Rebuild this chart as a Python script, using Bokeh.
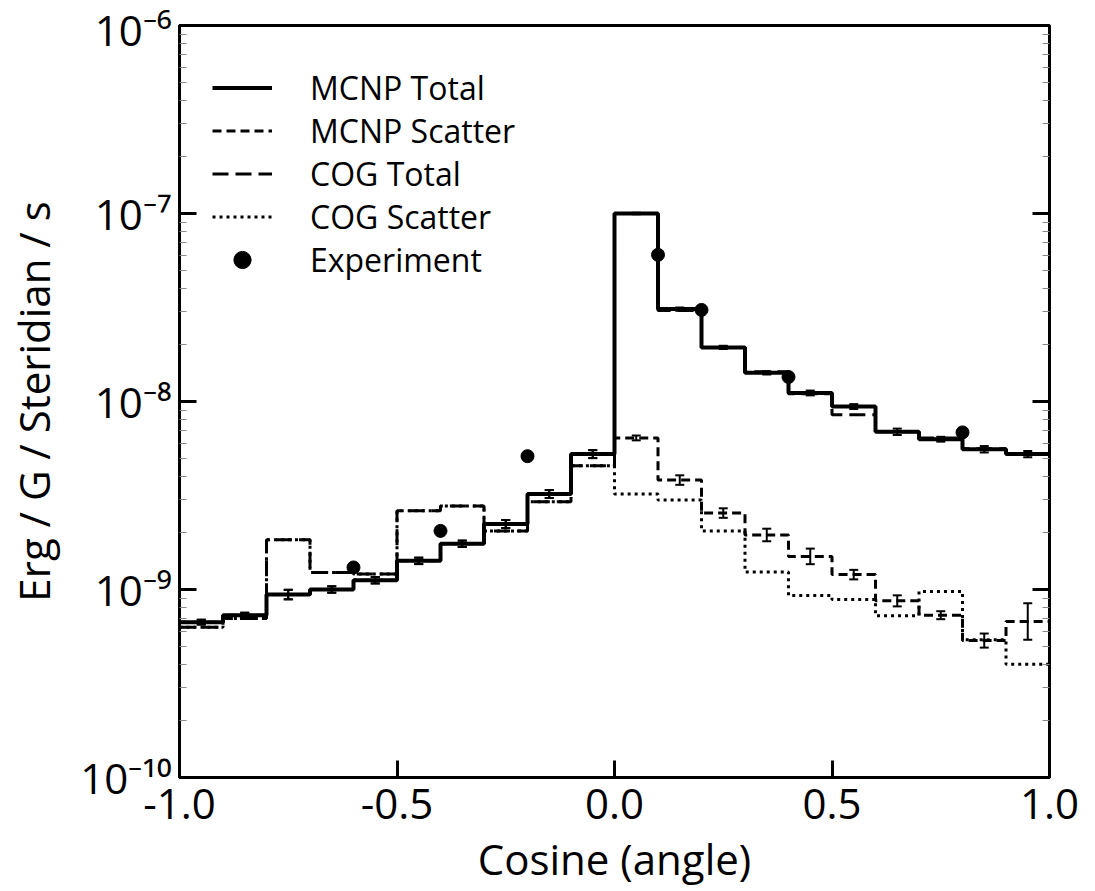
import numpy as np
from bokeh.plotting import figure
from bokeh.models import (Range1d, LogAxis, Legend, LegendItem, Whisker,
                          TeeHead, ColumnDataSource, FixedTicker, PrintfTickFormatter,
                          CustomJSTickFormatter)
from bokeh.embed import file_html
from bokeh.resources import INLINE

FONT = "Open Sans"

# ---------------- data ----------------
bin_edges = [-1.0, -0.9, -0.8, -0.7, -0.6, -0.5, -0.4, -0.3, -0.2, -0.1, 0.0,
             0.1, 0.2, 0.3, 0.4, 0.5, 0.6, 0.7, 0.8, 0.9, 1.0]
bin_centers = [-0.95, -0.85, -0.75, -0.65, -0.55, -0.45, -0.35, -0.25, -0.15, -0.05,
               0.05, 0.15, 0.25, 0.35, 0.45, 0.55, 0.65, 0.75, 0.85, 0.95]

mcnp_total = [6.7e-10, 7.3e-10, 9.4e-10, 1.0e-9, 1.12e-9, 1.42e-9, 1.75e-9, 2.23e-9, 3.22e-9, 5.25e-9,
              1.0e-7, 3.1e-8, 1.94e-8, 1.42e-8, 1.11e-8, 9.4e-9, 6.9e-9, 6.3e-9, 5.57e-9, 5.25e-9]
mcnp_total_err = [0.03, 0.03, 0.06, 0.04, 0.04, 0.04, 0.04, 0.05, 0.05, 0.05,
                  0.01, 0.02, 0.02, 0.02, 0.03, 0.03, 0.04, 0.03, 0.04, 0.04]

mcnp_scatter = [6.7e-10, 7.3e-10, 9.4e-10, 1.0e-9, 1.12e-9, 1.42e-9, 1.75e-9, 2.23e-9, 3.22e-9, 5.25e-9,
                6.4e-9, 3.82e-9, 2.55e-9, 1.95e-9, 1.5e-9, 1.2e-9, 8.7e-10, 7.3e-10, 5.35e-10, 6.75e-10]
mcnp_scatter_err = [0.03, 0.03, 0.06, 0.04, 0.04, 0.04, 0.04, 0.05, 0.05, 0.05,
                    0.03, 0.06, 0.06, 0.08, 0.10, 0.06, 0.07, 0.05, 0.09, 0.25]

cog_total = [6.3e-10, 7.0e-10, 1.84e-9, 1.23e-9, 1.21e-9, 2.62e-9, 2.78e-9, 2.05e-9, 2.93e-9, 4.55e-9,
             1.0e-7, 3.05e-8, 1.94e-8, 1.44e-8, 1.1e-8, 8.5e-9, 6.9e-9, 6.4e-9, 5.6e-9, 5.25e-9]
cog_scatter = [6.3e-10, 7.0e-10, 1.84e-9, 1.23e-9, 1.21e-9, 2.62e-9, 2.78e-9, 2.05e-9, 2.93e-9, 4.55e-9,
               3.22e-9, 2.99e-9, 2.05e-9, 1.24e-9, 9.3e-10, 8.85e-10, 7.26e-10, 9.75e-10, 5.4e-10, 4.0e-10]

exp_x = [-0.6, -0.4, -0.2, 0.1, 0.2, 0.4, 0.8]
exp_y = [1.31e-9, 2.05e-9, 5.12e-9, 6.03e-8, 3.07e-8, 1.35e-8, 6.85e-9]

x_ticks = [-1.0, -0.5, 0.0, 0.5, 1.0]
y_ticks = [1e-10, 1e-9, 1e-8, 1e-7, 1e-6]
y_tick_labels = ["10\u207b\u00b9\u2070", "10\u207b\u2079", "10\u207b\u2078",
                 "10\u207b\u2077", "10\u207b\u2076"]
y_minor_ticks = [k * 10.0 ** d for d in range(-10, -6) for k in range(2, 10)]

x_title = "Cosine (angle)"
y_title = "Erg / G / Steridian / s"

# ---------------- figure ----------------
p = figure(frame_width=870, frame_height=752,
           x_range=Range1d(-1.0, 1.0), y_range=Range1d(1e-10, 1e-6),
           y_axis_type="log", output_backend="svg", toolbar_location=None,
           min_border_left=179, min_border_right=38, min_border_top=25, min_border_bottom=108)
p.grid.visible = False
p.outline_line_color = "black"
p.outline_line_width = 3
p.outline_line_alpha = 1.0
p.background_fill_color = "white"


def step_y(vals):
    return list(vals) + [vals[-1]]


r_cog_sc = p.step(x=bin_edges, y=step_y(cog_scatter), mode="after",
                  line_color="black", line_width=3, line_dash="3 4")
r_mcnp_sc = p.step(x=bin_edges, y=step_y(mcnp_scatter), mode="after",
                   line_color="black", line_width=3, line_dash="9 5")
r_cog_tot = p.step(x=bin_edges, y=step_y(cog_total), mode="after",
                   line_color="black", line_width=3, line_dash="16 7")
r_mcnp_tot = p.step(x=bin_edges, y=step_y(mcnp_total), mode="after",
                    line_color="black", line_width=4)


def whisk(vals, errs):
    src = ColumnDataSource(dict(
        x=bin_centers,
        upper=[v * (1 + e) for v, e in zip(vals, errs)],
        lower=[v / (1 + e) for v, e in zip(vals, errs)],
    ))
    w = Whisker(base="x", upper="upper", lower="lower", source=src,
                line_color="black", line_width=2,
                upper_head=TeeHead(size=9, line_width=2, line_color="black"),
                lower_head=TeeHead(size=9, line_width=2, line_color="black"))
    p.add_layout(w)


whisk(mcnp_total, mcnp_total_err)
whisk(mcnp_scatter, mcnp_scatter_err)

r_exp = p.scatter(x=exp_x, y=exp_y, size=13, marker="circle",
                  fill_color="black", line_color="black")

# ---------------- axes ----------------
xa = p.xaxis[0]
xa.ticker = FixedTicker(ticks=x_ticks, minor_ticks=[])
xa.formatter = PrintfTickFormatter(format="%.1f")
xa.major_tick_in = 17
xa.major_tick_out = 0
xa.major_tick_line_width = 3
xa.axis_line_width = 3
xa.major_label_text_font = FONT
xa.major_label_text_font_size = "42px"
xa.major_label_text_color = "black"
xa.major_label_standoff = 11
xa.axis_label = x_title
xa.axis_label_text_font = FONT
xa.axis_label_text_font_size = "42px"
xa.axis_label_text_font_style = "normal"
xa.axis_label_text_color = "black"
xa.axis_label_standoff = 8

ya = p.yaxis[0]
ya.ticker = FixedTicker(ticks=y_ticks, minor_ticks=y_minor_ticks)
ya.formatter = CustomJSTickFormatter(args=dict(tvals=y_ticks, tlabels=y_tick_labels), code="""
let best = 0, bd = Infinity;
for (let i = 0; i < tvals.length; i++) {
  const d = Math.abs(Math.log10(tick) - Math.log10(tvals[i]));
  if (d < bd) { bd = d; best = i; }
}
return tlabels[best];
""")
ya.major_tick_in = 17
ya.major_tick_out = 0
ya.major_tick_line_width = 3
ya.minor_tick_in = 7
ya.minor_tick_out = 0
ya.minor_tick_line_width = 1
ya.minor_tick_line_color = "#888888"
ya.axis_line_width = 3
ya.major_label_text_font = FONT
ya.major_label_text_font_size = "42px"
ya.major_label_text_color = "black"
ya.major_label_standoff = 8
ya.axis_label = y_title
ya.axis_label_text_font = FONT
ya.axis_label_text_font_size = "42px"
ya.axis_label_text_font_style = "normal"
ya.axis_label_text_color = "black"
ya.axis_label_standoff = 15

ra = LogAxis(ticker=FixedTicker(ticks=y_ticks, minor_ticks=y_minor_ticks),
             major_tick_in=17, major_tick_out=0, major_tick_line_width=3,
             minor_tick_in=7, minor_tick_out=0, minor_tick_line_width=1,
             minor_tick_line_color="#888888", axis_line_width=3,
             major_label_text_font_size="0px", major_label_text_color=None,
             major_label_standoff=0)
p.add_layout(ra, "right")

# ---------------- legend ----------------
legend = Legend(items=[
    LegendItem(label="MCNP Total", renderers=[r_mcnp_tot]),
    LegendItem(label="MCNP Scatter", renderers=[r_mcnp_sc]),
    LegendItem(label="COG Total", renderers=[r_cog_tot]),
    LegendItem(label="COG Scatter", renderers=[r_cog_sc]),
    LegendItem(label="Experiment", renderers=[r_exp]),
], location=(33, 496))
legend.border_line_color = None
legend.background_fill_alpha = 0
legend.label_text_font = FONT
legend.label_text_font_size = "32px"
legend.label_text_color = "black"
legend.glyph_width = 60
legend.glyph_height = 43
legend.label_height = 43
legend.spacing = 0
legend.padding = 0
legend.margin = 0
legend.label_standoff = 38
p.add_layout(legend)

open("out.html", "w").write(file_html(p, INLINE))
